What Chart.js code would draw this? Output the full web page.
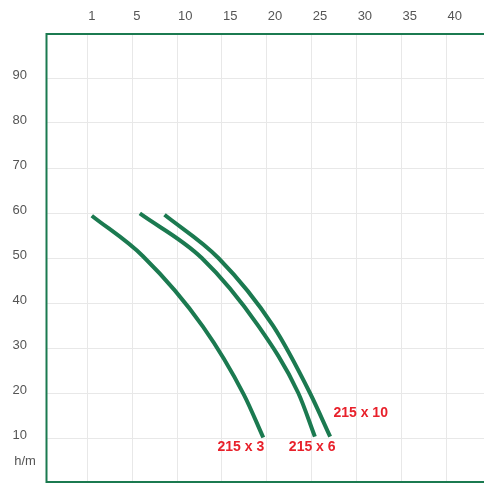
<!DOCTYPE html>
<html>
<head>
<meta charset="utf-8">
<script src="https://cdn.jsdelivr.net/npm/chart.js@4"></script>
<style>
  html, body { margin: 0; padding: 0; background: #fff; overflow: hidden; }
  #wrap { width: 494px; height: 484px; }
</style>
</head>
<body>
<div id="wrap"><canvas id="pumpChart" width="494" height="484"></canvas></div>
<script>
// Top axis labels (evenly spaced, not proportional)
const xLabels = ['1', '5', '10', '15', '20', '25', '30', '35', '40'];
const yTicks = [10, 20, 30, 40, 50, 60, 70, 80, 90];

// Curves, x given as position on the label axis (0 = "1", 1 = "5", ...)
const curve3X = [0.10, 1.24, 2.58, 3.49, 3.92];
const curve3Y = [59.4, 50.4, 34.7, 19.6, 10.1];
const curve6X = [1.17, 2.55, 3.81, 4.70, 5.07];
const curve6Y = [59.9, 50, 34.9, 20, 10.3];
const curve10X = [1.72, 2.92, 4.14, 4.96, 5.41];
const curve10Y = [59.6, 50, 34.9, 20, 10.3];

// Curve names and where their labels sit (axis units)
const seriesNames = ['215 x 3', '215 x 6', '215 x 10'];
const nameX = [3.42, 5.01, 6.09];
const nameY = [7.9, 7.9, 15.6];

const unitLabel = 'h/m';
const unitY = 4.7;

const green = '#1b7a50';
const red = '#e8212b';

function toPoints(xs, ys) {
  return xs.map((x, i) => ({ x: x, y: ys[i] }));
}

// Frame on left, top and bottom of the plot area
const framePlugin = {
  id: 'frame',
  afterDraw(chart) {
    const { ctx, chartArea: a } = chart;
    ctx.save();
    ctx.strokeStyle = green;
    ctx.lineWidth = 2;
    ctx.beginPath();
    ctx.moveTo(a.right + 2, a.top + 1);
    ctx.lineTo(a.left + 0.5, a.top + 1);
    ctx.lineTo(a.left + 0.5, a.bottom - 1);
    ctx.lineTo(a.right + 2, a.bottom - 1);
    ctx.stroke();
    ctx.restore();
  }
};

// Curve names and the unit label
const textPlugin = {
  id: 'texts',
  afterDraw(chart) {
    const { ctx, scales } = chart;
    ctx.save();
    ctx.fillStyle = red;
    ctx.font = 'bold 14px "Liberation Sans", Arial, sans-serif';
    ctx.textAlign = 'center';
    ctx.textBaseline = 'middle';
    seriesNames.forEach((name, i) => {
      ctx.fillText(name, scales.x.getPixelForValue(nameX[i]), scales.y.getPixelForValue(nameY[i]));
    });
    ctx.fillStyle = '#555';
    ctx.font = '13px "Liberation Sans", Arial, sans-serif';
    ctx.fillText(unitLabel, chart.chartArea.left - 21, scales.y.getPixelForValue(unitY));
    ctx.restore();
  }
};

const lineStyle = {
  borderColor: green,
  borderWidth: 4,
  pointRadius: 0,
  fill: false,
  cubicInterpolationMode: 'monotone'
};

new Chart(document.getElementById('pumpChart'), {
  type: 'line',
  data: {
    datasets: [
      Object.assign({ label: seriesNames[0], data: toPoints(curve3X, curve3Y) }, lineStyle),
      Object.assign({ label: seriesNames[1], data: toPoints(curve6X, curve6Y) }, lineStyle),
      Object.assign({ label: seriesNames[2], data: toPoints(curve10X, curve10Y) }, lineStyle)
    ]
  },
  options: {
    responsive: false,
    animation: false,
    layout: { padding: { left: 0, right: 0, top: 0, bottom: 1 } },
    plugins: { legend: { display: false }, tooltip: { enabled: false } },
    scales: {
      x: {
        type: 'linear',
        position: 'top',
        min: -0.92,
        max: 9.06,
        afterBuildTicks: s => { s.ticks = xLabels.map((_, i) => ({ value: i })); },
        afterFit: s => {
          s.height = 33;
          s.paddingLeft = 0; s.paddingRight = 0; s.paddingTop = 0; s.paddingBottom = 0;
        },
        grid: { color: '#e8e8e8', lineWidth: 1, drawTicks: false },
        border: { display: false },
        ticks: {
          autoSkip: false,
          maxRotation: 0,
          align: 'start',
          labelOffset: 1,
          padding: 9,
          color: '#555',
          font: { family: '"Liberation Sans", Arial, sans-serif', size: 13 },
          callback: v => xLabels[Math.round(v)]
        }
      },
      y: {
        type: 'linear',
        min: 0,
        max: 100,
        afterBuildTicks: s => { s.ticks = yTicks.map(v => ({ value: v })); },
        afterFit: s => {
          s.width = 46;
          s.paddingLeft = 0; s.paddingRight = 0; s.paddingTop = 0; s.paddingBottom = 0;
        },
        grid: { color: '#e8e8e8', lineWidth: 1, drawTicks: false },
        border: { display: false },
        ticks: {
          padding: 19,
          labelOffset: -3,
          color: '#555',
          font: { family: '"Liberation Sans", Arial, sans-serif', size: 13 }
        }
      }
    }
  },
  plugins: [framePlugin, textPlugin]
});
</script>
</body>
</html>
